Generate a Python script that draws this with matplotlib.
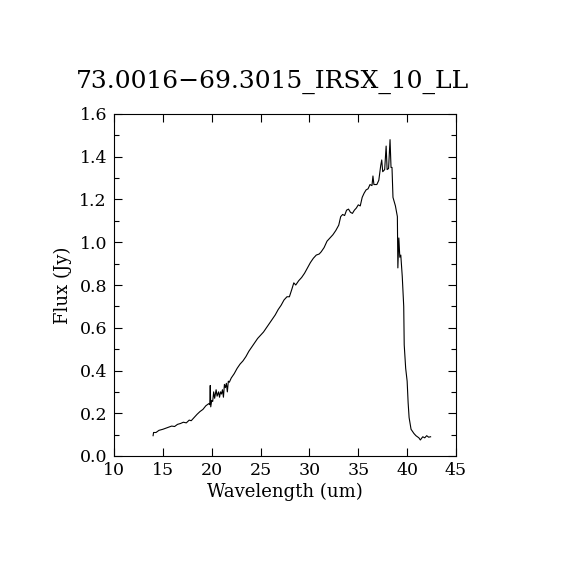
import matplotlib
matplotlib.use("Agg")
import matplotlib.pyplot as plt
from matplotlib.ticker import MultipleLocator, FormatStrFormatter

title = "73.0016\u221269.3015_IRSX_10_LL"

wavelength = [
    14.0, 14.05, 14.3, 14.6, 15.0, 15.3, 15.6, 15.9, 16.2, 16.5, 16.8, 17.1, 17.4,
    17.7, 17.9, 18.2, 18.5, 18.8, 19.1, 19.4, 19.7, 19.8, 19.85, 19.9, 20.0, 20.1,
    20.2, 20.3, 20.45, 20.55, 20.7, 20.8, 20.9, 21.0, 21.1, 21.2, 21.3, 21.4, 21.5,
    21.6, 21.7, 21.8, 22.0, 22.3, 22.6, 22.9, 23.2, 23.5, 23.8, 24.1, 24.4, 24.7,
    25.0, 25.3, 25.6, 25.9, 26.2, 26.5, 26.8, 27.1, 27.4, 27.7, 27.95, 28.2, 28.4,
    28.6, 28.9, 29.2, 29.5, 29.8, 30.1, 30.4, 30.7, 31.0, 31.2, 31.5, 31.8, 32.1,
    32.4, 32.7, 33.0, 33.2, 33.4, 33.6, 33.8, 34.0, 34.2, 34.4, 34.6, 34.8, 35.0,
    35.2, 35.4, 35.6, 35.8, 36.0, 36.2, 36.4, 36.5, 36.6, 36.9, 37.1, 37.3, 37.4,
    37.5, 37.7, 37.85, 37.95, 38.1, 38.25, 38.35, 38.45, 38.55, 38.8, 39.0, 39.05,
    39.15, 39.25, 39.35, 39.5, 39.65, 39.7, 39.85, 40.0, 40.1, 40.2, 40.4, 40.7,
    40.9, 41.2, 41.35, 41.6, 41.8, 42.0, 42.2, 42.4,
]
flux = [
    0.095, 0.11, 0.11, 0.12, 0.125, 0.13, 0.135, 0.14, 0.138, 0.148, 0.152, 0.158, 0.155,
    0.168, 0.165, 0.18, 0.195, 0.208, 0.218, 0.235, 0.245, 0.24, 0.33, 0.23, 0.26, 0.255,
    0.30, 0.27, 0.31, 0.28, 0.30, 0.275, 0.30, 0.29, 0.31, 0.275, 0.335, 0.32, 0.34,
    0.30, 0.35, 0.345, 0.365, 0.385, 0.41, 0.43, 0.445, 0.465, 0.49, 0.51, 0.53, 0.55,
    0.565, 0.58, 0.60, 0.62, 0.64, 0.66, 0.685, 0.705, 0.73, 0.745, 0.745, 0.78, 0.81,
    0.80, 0.82, 0.835, 0.855, 0.88, 0.905, 0.925, 0.94, 0.945, 0.955, 0.975, 1.005, 1.02,
    1.035, 1.055, 1.08, 1.12, 1.13, 1.125, 1.15, 1.155, 1.14, 1.135, 1.15, 1.16, 1.175,
    1.17, 1.21, 1.23, 1.245, 1.25, 1.27, 1.265, 1.31, 1.27, 1.27, 1.29, 1.36, 1.385,
    1.33, 1.34, 1.45, 1.34, 1.345, 1.48, 1.35, 1.35, 1.21, 1.17, 1.12, 0.88,
    1.02, 0.93, 0.94, 0.84, 0.70, 0.52, 0.41, 0.35, 0.25, 0.18, 0.125, 0.105,
    0.095, 0.085, 0.075, 0.09, 0.085, 0.095, 0.088, 0.09,
]

plt.rcParams["font.family"] = ["DejaVu Serif"]

fig = plt.figure(figsize=(5.7, 5.7), dpi=100)
ax = fig.add_axes([0.2, 0.2, 0.6, 0.6])
ax.plot(wavelength, flux, color="black", lw=0.8)

ax.set_xlim(10, 45)
ax.set_ylim(0.0, 1.6)
ax.xaxis.set_major_locator(MultipleLocator(5))
ax.yaxis.set_major_locator(MultipleLocator(0.2))
ax.yaxis.set_minor_locator(MultipleLocator(0.1))
ax.yaxis.set_major_formatter(FormatStrFormatter("%.1f"))
ax.tick_params(which="both", direction="in", top=True, right=True, labelsize=12.5,
               width=0.8, colors="black")
ax.tick_params(which="major", length=6)
ax.tick_params(which="minor", length=3.5)
ax.tick_params(axis="x", which="major", pad=4)
ax.tick_params(axis="y", which="major", pad=5)
for s in ax.spines.values():
    s.set_linewidth(0.8)

ax.set_xlabel("Wavelength (um)", fontsize=13, labelpad=3)
ax.set_ylabel("Flux (Jy)", fontsize=13, labelpad=5)
fig.text(0.478, 0.856, title, fontsize=18, ha="center", va="center")

fig.savefig("out.png", dpi=100, facecolor="white")
